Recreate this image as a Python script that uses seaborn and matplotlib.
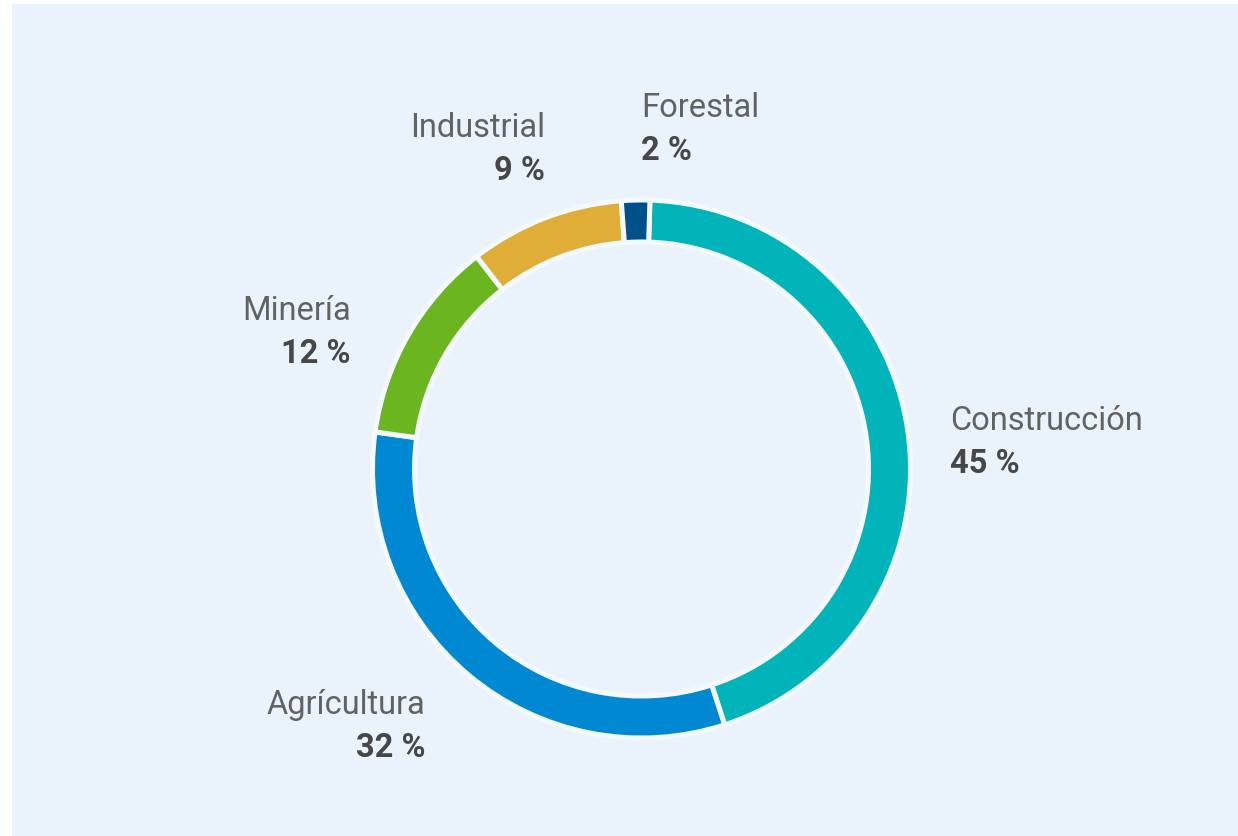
import matplotlib
matplotlib.use("Agg")
import matplotlib.pyplot as plt
import seaborn as sns
from matplotlib.patches import Rectangle

# 数据 (扇区大小按图形估计, 标签为图中显示的整数百分比)
sectors = ["Construcción", "Agrícultura", "Minería", "Industrial", "Forestal"]
shares = [44.5, 32.2, 12.3, 9.3, 1.7]
pct_labels = [45, 32, 12, 9, 2]
colors = ["#00B4B9", "#0089D2", "#6BB51F", "#E0AD36", "#00508A"]

# 标签位置 (像素, 相对于图片左上角) 与对齐方式
label_px = [(950, 421), (425, 705), (351, 311), (545, 128), (641, 108)]
label_ha = ["left", "right", "right", "right", "left"]

sns.set_style("white")
plt.rcParams["font.family"] = ["Roboto", "DejaVu Sans"]

W, H = 1238, 836
fig = plt.figure(figsize=(W / 100, H / 100), dpi=100, facecolor="white")

# 背景面板
fig.patches.append(Rectangle((12 / W, 0), 1 - 12 / W, 1 - 4 / H,
                             transform=fig.transFigure, facecolor="#EAF3FC",
                             edgecolor="none", zorder=-5))

cx, cy, R = 641.5, 469, 269
ax = fig.add_axes([(cx - R) / W, (H - cy - R) / H, 2 * R / W, 2 * R / H])
ax.set_facecolor("none")

ax.pie(shares, colors=colors, startangle=88.2, counterclock=False, radius=1,
       wedgeprops=dict(width=42 / R, edgecolor="#F4F9FE", linewidth=3.6))
ax.set_xlim(-1, 1)
ax.set_ylim(-1, 1)
ax.set_aspect("equal")
ax.axis("off")

for name, val, (px, py), ha in zip(sectors, pct_labels, label_px, label_ha):
    x = (px - cx) / R
    y = (cy - py) / R
    ax.text(x, y, name, ha=ha, va="center", fontsize=23.5, color="#626262",
            clip_on=False)
    ax.text(x, y - 43 / R, f"{val} %", ha=ha, va="center", fontsize=23.5,
            fontweight="bold", color="#474747", clip_on=False)

fig.savefig("out.png", dpi=100, facecolor="white")
